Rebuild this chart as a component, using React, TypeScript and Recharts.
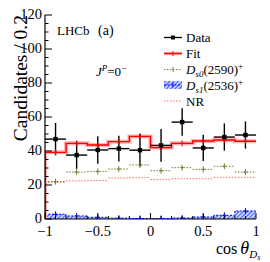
import React from 'react';
import { ComposedChart, Line, Area, Scatter, XAxis, YAxis, ErrorBar } from 'recharts';

const binEdges = [-1, -0.8, -0.6, -0.4, -0.2, 0, 0.2, 0.4, 0.6, 0.8, 1];
const binCenters = [-0.9, -0.7, -0.5, -0.3, -0.1, 0.1, 0.3, 0.5, 0.7, 0.9];
const dataCounts = [47, 37.6, 40.6, 41.4, 40.5, 43.3, 57, 41.8, 48.2, 49.4];
const dataErrors = [9.5, 8, 8.1, 7.6, 9.6, 9.6, 8.1, 7.7, 8, 8];
const fitValues = [39.2, 44.5, 43.5, 45.5, 48.6, 42, 44.5, 45.9, 46.5, 45.7];
const ds0Values = [22, 27.6, 28, 29.4, 31.8, 28.4, 30.2, 29.2, 31, 27.6];
const ds1Values = [2.8, 1.8, 1.0, 0.5, 0.3, 0.3, 0.6, 1.2, 2.2, 4.7];
const nrValues = [21.6, 22.4, 22.6, 24.1, 24.3, 23.3, 23.7, 23.7, 24.5, 24.5];

const xMajorTicks = [-1, -0.5, 0, 0.5, 1];
const xTickLabels = ['\u22121', '\u22120.5', '0', '0.5', '1'];
const xMinorTicks = [-1, -0.9, -0.8, -0.7, -0.6, -0.5, -0.4, -0.3, -0.2, -0.1, 0, 0.1, 0.2, 0.3, 0.4, 0.5, 0.6, 0.7, 0.8, 0.9, 1];
const yMajorTicks = [0, 20, 40, 60, 80, 100, 120];
const yMinorTicks = [0, 5, 10, 15, 20, 25, 30, 35, 40, 45, 50, 55, 60, 65, 70, 75, 80, 85, 90, 95, 100, 105, 110, 115, 120];

const FONT = '"Liberation Serif"';
const fs = (size: number, extra: any = {}) => ({ fontFamily: FONT, fontSize: size, ...extra });

const stepData = (vals: number[]) => {
  const rows: { x: number; y: number }[] = [{ x: binEdges[0], y: 0 }];
  binEdges.forEach((e, i) => rows.push({ x: e, y: vals[Math.min(i, vals.length - 1)] }));
  return rows;
};
const areaStepData = (vals: number[]) =>
  binEdges.map((e, i) => ({ x: e, y: vals[Math.min(i, vals.length - 1)] }));
const segData = (vals: number[]) => {
  const rows: { x: number; y: number | null }[] = [];
  vals.forEach((v, i) => {
    rows.push({ x: binEdges[i], y: v });
    rows.push({ x: binEdges[i + 1], y: v });
    rows.push({ x: binEdges[i + 1], y: null });
  });
  return rows;
};
const centerData = (vals: number[]) => binCenters.map((c, i) => ({ x: c, y: vals[i] }));
const pointData = binCenters.map((c, i) => ({ x: c, y: dataCounts[i], ex: 0.1, ey: dataErrors[i] }));

const isMajor = (v: number, majors: number[]) => majors.some((m) => Math.abs(m - v) < 1e-6);

const BottomTick = (p: any) => {
  const v = p.payload.value;
  const maj = isMajor(v, xMajorTicks);
  const idx = xMajorTicks.findIndex((m) => Math.abs(m - v) < 1e-6);
  return (
    <g>
      <line x1={p.x} x2={p.x} y1={p.y} y2={p.y - (maj ? 6 : 3)} stroke="#000" strokeWidth={1} />
      {maj && (
        <text x={p.x} y={p.y + 17} textAnchor="middle" style={fs(14.5)} fill="#000">
          {xTickLabels[idx]}
        </text>
      )}
    </g>
  );
};
const TopTick = (p: any) => {
  const v = p.payload.value;
  const maj = isMajor(v, xMajorTicks);
  return <line x1={p.x} x2={p.x} y1={p.y} y2={p.y + (maj ? 6 : 3)} stroke="#000" strokeWidth={1} />;
};
const LeftTick = (p: any) => {
  const v = p.payload.value;
  const maj = isMajor(v, yMajorTicks);
  return (
    <g>
      <line x1={p.x} x2={p.x + (maj ? 7 : 3.5)} y1={p.y} y2={p.y} stroke="#000" strokeWidth={1} />
      {maj && (
        <text x={p.x - 3} y={p.y + 4} textAnchor="end" style={fs(14.5)} fill="#000">
          {String(v)}
        </text>
      )}
    </g>
  );
};
const RightTick = (p: any) => {
  const v = p.payload.value;
  const maj = isMajor(v, yMajorTicks);
  return <line x1={p.x} x2={p.x - (maj ? 7 : 3.5)} y1={p.y} y2={p.y} stroke="#000" strokeWidth={1} />;
};

const squareShape = (p: any) => <rect x={p.cx - 2.2} y={p.cy - 2.2} width={4.4} height={4.4} fill="#000" />;
const crossShape = (color: string) => (p: any) => (
  <g>
    <line x1={p.cx} x2={p.cx} y1={p.cy - 3} y2={p.cy + 3} stroke={color} strokeWidth={1} />
    <line x1={p.cx - 2} x2={p.cx + 2} y1={p.cy} y2={p.cy} stroke={color} strokeWidth={1} />
  </g>
);

const Legend = () => {
  const rows = [37.5, 53.5, 69.5, 85, 101];
  const x0 = 164;
  const x1 = 182;
  const xm = (x0 + x1) / 2;
  const tx = 186;
  const f = 13;
  return (
    <g fill="#000">
      <line x1={x0} x2={x1} y1={rows[0]} y2={rows[0]} stroke="#000" strokeWidth={1.3} />
      <rect x={xm - 2} y={rows[0] - 2} width={4} height={4} fill="#000" />
      <text x={tx} y={rows[0] + 4.5} style={fs(f)}>Data</text>

      <line x1={x0} x2={x1} y1={rows[1]} y2={rows[1]} stroke="#ffb0b0" strokeWidth={3.5} />
      <line x1={x0} x2={x1} y1={rows[1]} y2={rows[1]} stroke="#ff0000" strokeWidth={1.3} />
      <line x1={xm} x2={xm} y1={rows[1] - 2.5} y2={rows[1] + 2.5} stroke="#ff0000" strokeWidth={1} />
      <text x={tx} y={rows[1] + 4.5} style={fs(f)}>Fit</text>

      <line x1={x0} x2={x1} y1={rows[2]} y2={rows[2]} stroke="#7a7a30" strokeWidth={1} strokeDasharray="1.5 1.5" />
      <line x1={xm} x2={xm} y1={rows[2] - 2.5} y2={rows[2] + 2.5} stroke="#7a7a30" strokeWidth={1} />
      <text x={tx} y={rows[2] + 4.5} style={fs(f)}>
        <tspan style={fs(f, { fontStyle: 'italic' })}>D</tspan>
        <tspan style={fs(9, { fontStyle: 'italic' })} dy={3}>s0</tspan>
        <tspan dy={-3}>(2590)</tspan>
        <tspan style={fs(9)} dy={-5}>+</tspan>
      </text>

      <rect x={x0} y={rows[3] - 4} width={x1 - x0} height={8} fill="url(#hatch)" />
      <line x1={x0} x2={x1} y1={rows[3]} y2={rows[3]} stroke="#0000ff" strokeWidth={1} strokeDasharray="2 1.5" />
      <line x1={xm} x2={xm} y1={rows[3] - 2.5} y2={rows[3] + 2.5} stroke="#0000ff" strokeWidth={1} />
      <text x={tx} y={rows[3] + 4.5} style={fs(f)}>
        <tspan style={fs(f, { fontStyle: 'italic' })}>D</tspan>
        <tspan style={fs(9, { fontStyle: 'italic' })} dy={3}>s1</tspan>
        <tspan dy={-3}>(2536)</tspan>
        <tspan style={fs(9)} dy={-5}>+</tspan>
      </text>

      <line x1={x0} x2={x1} y1={rows[4]} y2={rows[4]} stroke="#f07070" strokeWidth={1} strokeDasharray="1.5 1.5" />
      <text x={tx} y={rows[4] + 4.5} style={fs(f)}>NR</text>
    </g>
  );
};

export default function App() {
  return (
    <div style={{ position: 'absolute', left: 0, top: 0, width: 270, height: 262, background: '#fff', fontFamily: FONT }}>
      <svg width={0} height={0} style={{ position: 'absolute' }}>
        <defs>
          <pattern id="hatch" patternUnits="userSpaceOnUse" width={3} height={3} patternTransform="rotate(45)">
            <rect width={3} height={3} fill="#c8d0ff" />
            <line x1={0} y1={0} x2={0} y2={3} stroke="#2040ff" strokeWidth={1.6} />
          </pattern>
        </defs>
      </svg>
      <ComposedChart width={270} height={262} margin={{ top: 15, right: 14, bottom: 0, left: 0 }}>
        <XAxis
          xAxisId={0}
          type="number"
          dataKey="x"
          domain={[-1, 1]}
          allowDataOverflow
          ticks={xMinorTicks}
          interval={0}
          tick={BottomTick}
          tickLine={false}
          tickSize={0}
          tickMargin={0}
          height={43}
          axisLine={{ stroke: '#000', strokeWidth: 1.2 }}
        />
        <XAxis
          xAxisId="top"
          orientation="top"
          type="number"
          dataKey="x"
          domain={[-1, 1]}
          allowDataOverflow
          ticks={xMinorTicks}
          interval={0}
          tick={TopTick}
          tickLine={false}
          tickSize={0}
          tickMargin={0}
          height={0}
          axisLine={{ stroke: '#000', strokeWidth: 1.2 }}
        />
        <YAxis
          yAxisId={0}
          type="number"
          dataKey="y"
          domain={[0, 120]}
          allowDataOverflow
          ticks={yMinorTicks}
          interval={0}
          tick={LeftTick}
          tickLine={false}
          tickSize={0}
          tickMargin={0}
          width={45}
          axisLine={{ stroke: '#000', strokeWidth: 1.2 }}
        />
        <YAxis
          yAxisId="right"
          orientation="right"
          type="number"
          domain={[0, 120]}
          allowDataOverflow
          ticks={yMinorTicks}
          interval={0}
          tick={RightTick}
          tickLine={false}
          tickSize={0}
          tickMargin={0}
          width={0}
          axisLine={{ stroke: '#000', strokeWidth: 1.2 }}
        />
        <Area
          data={areaStepData(ds1Values)}
          dataKey="y"
          type="stepAfter"
          fill="url(#hatch)"
          fillOpacity={1}
          stroke="#0000ff"
          strokeWidth={1}
          strokeDasharray="2 1.5"
          baseValue={0}
          isAnimationActive={false}
          dot={false}
          activeDot={false}
        />
        <Scatter data={centerData(ds1Values)} dataKey="y" shape={crossShape('#0000ff')} isAnimationActive={false} />
        <Line
          data={segData(nrValues)}
          dataKey="y"
          type="linear"
          stroke="#f07070"
          strokeWidth={1}
          strokeDasharray="1.5 1.5"
          dot={false}
          activeDot={false}
          connectNulls={false}
          isAnimationActive={false}
        />
        <Line
          data={segData(ds0Values)}
          dataKey="y"
          type="linear"
          stroke="#7a7a30"
          strokeWidth={1}
          strokeDasharray="1.5 1.5"
          dot={false}
          activeDot={false}
          connectNulls={false}
          isAnimationActive={false}
        />
        <Scatter data={centerData(ds0Values)} dataKey="y" shape={crossShape('#7a7a30')} isAnimationActive={false} />
        <Line
          data={stepData(fitValues)}
          dataKey="y"
          type="stepAfter"
          stroke="#ffb0b0"
          strokeWidth={4}
          dot={false}
          activeDot={false}
          isAnimationActive={false}
        />
        <Line
          data={stepData(fitValues)}
          dataKey="y"
          type="stepAfter"
          stroke="#ff0000"
          strokeWidth={1.4}
          dot={false}
          activeDot={false}
          isAnimationActive={false}
        />
        <Scatter data={centerData(fitValues)} dataKey="y" shape={crossShape('#ff0000')} isAnimationActive={false} />
        <Scatter data={pointData} dataKey="y" shape={squareShape} isAnimationActive={false}>
          <ErrorBar dataKey="ey" direction="y" width={0} stroke="#000" strokeWidth={1.4} />
          <ErrorBar dataKey="ex" direction="x" width={0} stroke="#000" strokeWidth={1.4} />
        </Scatter>
      </ComposedChart>
      <svg width={270} height={262} style={{ position: 'absolute', left: 0, top: 0, pointerEvents: 'none' }}>
        <Legend />
        <text x={57} y={35} style={fs(13)} fill="#000">LHCb</text>
        <text x={98} y={35} style={fs(14)} fill="#000">(a)</text>
        <text x={96} y={76} style={fs(13)} fill="#000">
          <tspan style={fs(13, { fontStyle: 'italic' })}>J</tspan>
          <tspan style={fs(9, { fontStyle: 'italic' })} dy={-5}>P</tspan>
          <tspan dy={5}>=0</tspan>
          <tspan style={fs(9)} dy={-5}>{'\u2212'}</tspan>
        </text>
        <text
          x={27}
          y={15}
          transform="rotate(-90, 27, 15)"
          textAnchor="end"
          style={fs(19.5)}
          fill="#000"
        >
          Candidates / 0.2
        </text>
        <text x={216} y={254} style={fs(16)} fill="#000">
          cos
          <tspan style={fs(18, { fontStyle: 'italic' })} dx={3}>{'\u03b8'}</tspan>
          <tspan style={fs(11, { fontStyle: 'italic' })} dy={4}>D</tspan>
          <tspan style={fs(8, { fontStyle: 'italic' })} dy={2}>s</tspan>
        </text>
      </svg>
    </div>
  );
}
